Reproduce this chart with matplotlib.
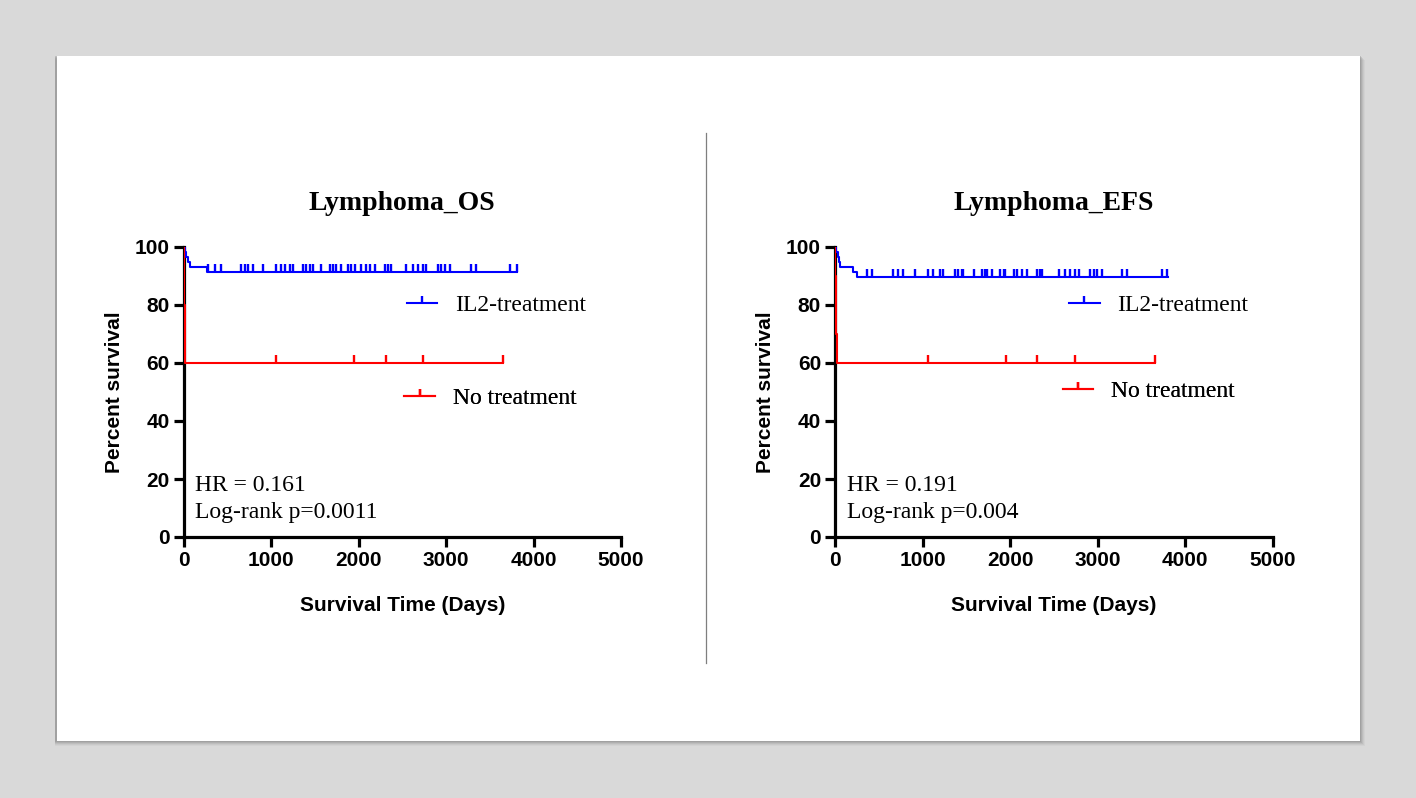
import matplotlib
matplotlib.use("Agg")
import matplotlib.pyplot as plt
from matplotlib.patches import Rectangle
from matplotlib.lines import Line2D

# Kaplan-Meier step data (days, percent survival)
os_il2_time = [0, 15, 30, 50, 70, 267, 3806]
os_il2_surv = [100, 98.3, 96.6, 94.9, 93.1, 91.4, 91.4]
os_il2_cens = [278, 355, 431, 660, 698, 736, 793, 908, 1060, 1117, 1155, 1213, 1251,
               1365, 1403, 1441, 1480, 1575, 1670, 1708, 1747, 1804, 1880, 1918, 1956,
               2033, 2090, 2128, 2185, 2299, 2337, 2376, 2547, 2623, 2681, 2738, 2776,
               2909, 2948, 2986, 3043, 3291, 3348, 3730, 3806]

efs_il2_time = [0, 15, 30, 45, 57, 210, 256, 3806]
efs_il2_surv = [100, 98.3, 96.6, 94.9, 93.1, 91.4, 89.7, 89.7]
efs_il2_cens = [362, 420, 667, 725, 782, 915, 1068, 1125, 1201, 1239, 1373, 1411, 1449,
                1468, 1583, 1678, 1716, 1735, 1792, 1888, 1926, 1945, 2040, 2078, 2135,
                2193, 2307, 2338, 2364, 2555, 2631, 2688, 2745, 2784, 2917, 2955, 2993,
                3050, 3279, 3337, 3737, 3794]

none_time = [0, 5, 10, 15, 20, 3653]
none_surv = [100, 90, 80, 70, 60, 60]
none_cens = [1060, 1949, 2311, 2738, 3653]

titles = ["Lymphoma_OS", "Lymphoma_EFS"]
hr_text = ["HR = 0.161", "HR = 0.191"]
p_text = ["Log-rank p=0.0011", "Log-rank p=0.004"]
series_names = ["IL2-treatment", "No treatment"]

BLUE = "#0000ff"
RED = "#ff0000"
SANS = "Liberation Sans"
SERIF = "Liberation Serif"

W, H = 1416, 798
fig = plt.figure(figsize=(W / 100, H / 100), dpi=100)
fig.patch.set_facecolor("#d9d9d9")

# white page with a soft shadow
for off, a in [(5, 0.08), (4, 0.12), (3, 0.18), (2, 0.25), (1, 0.35)]:
    fig.patches.append(Rectangle((55 / W, 1 - (741 + off) / H), (1305 + off) / W, 686 / H,
                                 transform=fig.transFigure, facecolor="#888888", alpha=a,
                                 edgecolor="none", zorder=0))
fig.patches.append(Rectangle((57 / W, 1 - 741 / H), 1303 / W, 685 / H,
                             transform=fig.transFigure, facecolor="white",
                             edgecolor="none", zorder=1))
fig.add_artist(Line2D([706 / W, 706 / W], [1 - 133 / H, 1 - 663 / H],
                      transform=fig.transFigure, color="#7f7f7f", lw=0.9))


def km_panel(ax, t_il2, s_il2, c_il2, idx, leg_pos):
    ax.step(t_il2, s_il2, where="post", color=BLUE, lw=1.5, zorder=3)
    ax.step(none_time, none_surv, where="post", color=RED, lw=1.5, zorder=3)
    # censor ticks
    lvl_il2 = [s_il2[-1]] * len(c_il2)
    lvl_none = [none_surv[-1]] * len(none_cens)
    ax.plot(c_il2, lvl_il2, ls="none", marker=2, ms=5.5, mew=1.7, color=BLUE, zorder=3)
    ax.plot(none_cens, lvl_none, ls="none", marker=2, ms=5.5, mew=1.7, color=RED, zorder=3)

    ax.set_xlim(0, 5000)
    ax.set_ylim(0, 100)
    ax.set_xticks(range(0, 5001, 1000))
    ax.set_yticks(range(0, 101, 20))
    for s in ["top", "right"]:
        ax.spines[s].set_visible(False)
    for s in ["left", "bottom"]:
        ax.spines[s].set_linewidth(2.3)
    ax.tick_params(width=2.3, length=7, labelsize=15, pad=3)
    for lab in ax.get_xticklabels() + ax.get_yticklabels():
        lab.set_fontfamily(SANS)
        lab.set_fontweight("bold")

    ax.set_title(titles[idx], fontfamily=SERIF, fontweight="bold", fontsize=20, pad=27)
    ax.set_xlabel("Survival Time (Days)", fontfamily=SANS, fontweight="bold",
                  fontsize=15, labelpad=19)
    ax.set_ylabel("Percent survival", fontfamily=SANS, fontweight="bold",
                  fontsize=15, labelpad=8)

    colors = [BLUE, RED]
    for k in range(2):
        h = Line2D([], [], color=colors[k], lw=1.5, marker=2, ms=5, mew=1.7)
        leg = ax.legend([h], [series_names[k]], loc="center left",
                        bbox_to_anchor=leg_pos[k], borderaxespad=0, borderpad=0,
                        frameon=False, handlelength=1.3, handletextpad=0.75,
                        numpoints=1, prop={"family": SERIF, "size": 17})
        ax.add_artist(leg)

    ax.text(0.027, 0.176, hr_text[idx], transform=ax.transAxes, va="center",
            fontfamily=SERIF, fontsize=17)
    ax.text(0.027, 0.083, p_text[idx], transform=ax.transAxes, va="center",
            fontfamily=SERIF, fontsize=17)


ax1 = fig.add_axes([183.5 / W, 1 - 537 / H, 437.5 / W, 290 / H])
ax2 = fig.add_axes([835 / W, 1 - 537 / H, 437.5 / W, 290 / H])
for a in (ax1, ax2):
    a.set_zorder(2)
    a.patch.set_alpha(0)

km_panel(ax1, os_il2_time, os_il2_surv, os_il2_cens, 0, [(0.51, 0.80), (0.505, 0.479)])
km_panel(ax2, efs_il2_time, efs_il2_surv, efs_il2_cens, 1, [(0.535, 0.80), (0.52, 0.503)])

fig.savefig("out.png", dpi=100, facecolor=fig.get_facecolor())
